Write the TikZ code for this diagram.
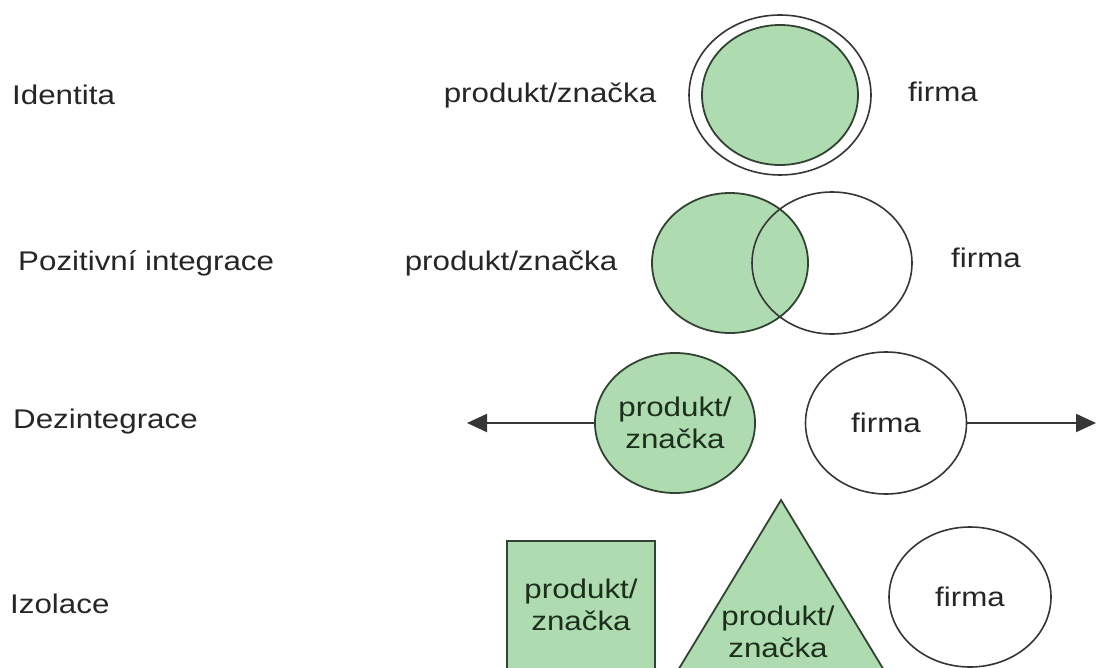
\documentclass[tikz,border=0pt]{standalone}
\usepackage{fontspec}
\setmainfont{Liberation Sans}[FakeStretch=1.16]
\usetikzlibrary{arrows.meta,shapes.geometric}
\definecolor{leaf}{HTML}{AEDCB0}
\definecolor{ink}{HTML}{262626}
\definecolor{leafink}{HTML}{1C2E1C}
\definecolor{rim}{HTML}{363636}
\definecolor{leafrim}{HTML}{334333}
\tikzset{
  txt/.style={inner sep=0pt, text=ink},
  rowlabel/.style={txt, anchor=base west},
  greenoval/.style={ellipse, draw=leafrim, fill=leaf, line width=1.8pt, inner sep=0pt,
    text=leafink, align=center},
  whiteoval/.style={ellipse, draw=rim, line width=1.6pt, inner sep=0pt, text=ink, align=center},
  greenshape/.style={draw=leafrim, fill=leaf, line width=1.8pt},
  pusharrow/.style={draw=rim, line width=2pt, -{Triangle[length=20pt,width=18pt]}}
}
\begin{document}
\begin{tikzpicture}[x=1pt, y=-1pt, font=\fontsize{27}{32}\selectfont]
  \useasboundingbox (0,0) rectangle (1097,668);
  \clip (0,0) rectangle (1097,668);
  \fill[white] (0,0) rectangle (1097,668);

  % row labels
  \node[rowlabel] (l1) at (12,105) {Identita};
  \node[rowlabel] (l2) at (18,270) {Pozitivní integrace};
  \node[rowlabel] (l3) at (13,428) {Dezintegrace};
  \node[rowlabel] (l4) at (10,613) {Izolace};

  % identity: brand inside the company
  \node[whiteoval, minimum width=182pt, minimum height=160pt] (id-f) at (780,95) {};
  \node[greenoval, minimum width=156pt, minimum height=140pt] (id-p) at (780,95) {};
  \node[txt, anchor=base] (id-pt) at (550,103) {produkt/značka};
  \node[txt, anchor=base] (id-ft) at (943,102) {firma};

  % positive integration: overlapping sets
  \node[greenoval, minimum width=156pt, minimum height=140pt] (pi-p) at (730,263) {};
  \node[whiteoval, minimum width=160pt, minimum height=142pt] (pi-f) at (832,263) {};
  \node[txt, anchor=base] (pi-pt) at (511,270) {produkt/značka};
  \node[txt, anchor=base] (pi-ft) at (986,268) {firma};

  % disintegration: the two drift apart
  \node[greenoval, minimum width=158pt, minimum height=140pt] (dz-p) at (675,423) {produkt/\\značka};
  \node[whiteoval, minimum width=161pt, minimum height=142pt] (dz-f) at (886,423) {firma};
  \coordinate (dz-l) at (467,423);
  \coordinate (dz-r) at (1096,423);
  \draw[pusharrow] (dz-p.west) -- (dz-l);
  \draw[pusharrow] (dz-f.east) -- (dz-r);

  % isolation: unrelated shapes
  \draw[greenshape] (507,541) rectangle (655,720);
  \node[txt, text=leafink, align=center] (iz-sq) at (581,605) {produkt/\\značka};
  \draw[greenshape] (781,500) -- (660,700) -- (902,700) -- cycle;
  \node[txt, text=leafink, align=center] (iz-tr) at (778,632) {produkt/\\značka};
  \node[whiteoval, minimum width=162pt, minimum height=140pt] (iz-f) at (970,597) {firma};
\end{tikzpicture}
\end{document}
